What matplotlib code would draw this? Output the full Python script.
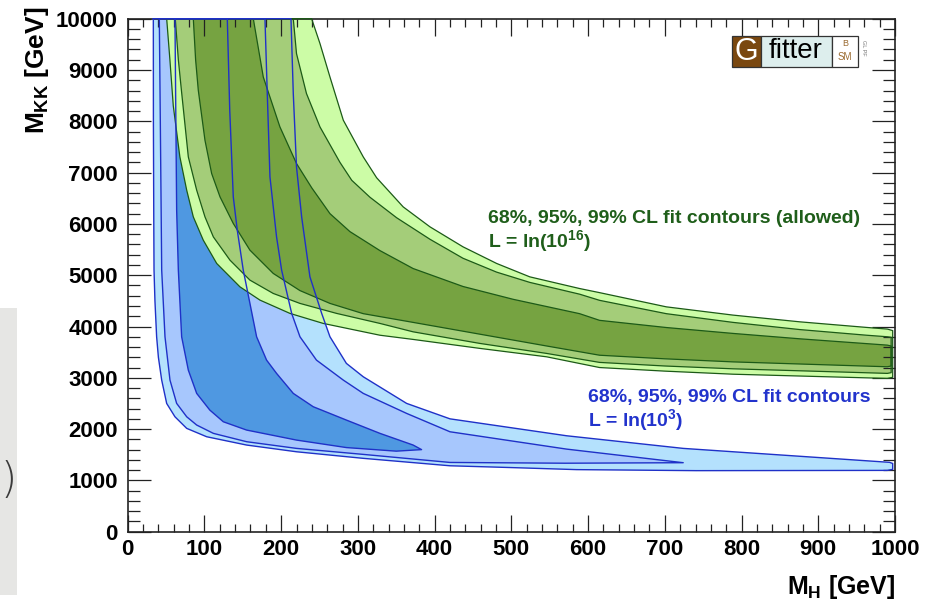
import numpy as np
import matplotlib
matplotlib.use("Agg")
import matplotlib.pyplot as plt
from matplotlib.ticker import MultipleLocator
from matplotlib.patches import Rectangle

plt.rcParams['font.family'] = ['Liberation Sans', 'DejaVu Sans']
plt.rcParams['mathtext.fontset'] = 'custom'
plt.rcParams['mathtext.rm'] = 'Liberation Sans:bold'
plt.rcParams['mathtext.it'] = 'Liberation Sans:bold'
plt.rcParams['mathtext.bf'] = 'Liberation Sans:bold'

# ---------------- data: contour boundaries ----------------
# blue contours, L = ln(10^3): "low" = left/lower edge (top -> right), "high" = right/upper edge
blue99_low_x = [33.4, 33.5, 34.0, 34.3, 35.5, 37.7, 40.0, 44.3, 50.8, 61.6, 76.9, 102.9, 155, 220, 307, 420, 500, 585, 741, 990, 997, 997]
blue99_low_y = [10000, 8000, 6000, 5100, 4500, 3800, 3400, 2955, 2500, 2240, 2014, 1851, 1689, 1558, 1430, 1285, 1250, 1210, 1190, 1195, 1215, 1330]
blue99_high_x = [212.8, 215.8, 220, 226.7, 237.5, 252.8, 263.6, 285, 307, 363.5, 420, 572, 724, 993]
blue99_high_y = [10000, 8541, 7111, 6137, 4968, 4255, 3800, 3281, 3020, 2501, 2200, 1870, 1624, 1352]

blue95_low_x = [41.2, 42.5, 44.3, 48.6, 55.1, 63.8, 76.9, 89.9, 111.6, 155, 220, 307, 420, 570, 724]
blue95_low_y = [10000, 8000, 5100, 3800, 2955, 2501, 2240, 2079, 1917, 1754, 1624, 1507, 1350, 1335, 1345]
blue95_high_x = [178.9, 181.9, 185.4, 194, 200.6, 213.7, 224.5, 246, 281, 307, 363.5, 420, 572, 724]
blue95_high_y = [10000, 8541, 6916, 5747, 5099, 4255, 3800, 3345, 2955, 2696, 2306, 1948, 1610, 1345]

blue68_low_x = [61.6, 63.8, 66, 70.3, 79, 89.9, 107, 124.6, 155, 220, 285, 350, 383]
blue68_low_y = [10000, 6265, 5099, 3800, 3150, 2696, 2371, 2143, 1981, 1786, 1640, 1570, 1600]
blue68_high_x = [129.8, 133, 137.6, 142.8, 150.6, 159.3, 168, 181, 194, 215.8, 241.8, 285, 328.7, 372, 383]
blue68_high_y = [10000, 8212, 6527, 5878, 5099, 4450, 3800, 3345, 3086, 2696, 2436, 2176, 1917, 1689, 1600]

# green contours, L = ln(10^16)
green99_low_x = [50.8, 55, 59.4, 68, 76.9, 85.5, 98.5, 116, 146.3, 172.4, 211.5, 254.8, 328.7, 372, 459, 546, 615, 700, 789, 990, 997, 997]
green99_low_y = [10000, 9200, 8300, 7306, 6657, 6137, 5683, 5229, 4773, 4514, 4255, 4060, 3830, 3748, 3573, 3409, 3200, 3130, 3070, 2988, 3010, 3920]
green99_high_x = [239.7, 250.6, 263.6, 281, 307, 324.4, 359, 394, 437, 480.8, 524, 589, 615, 702, 789, 876, 963, 990]
green99_high_y = [10000, 9515, 8864, 8021, 7306, 6900, 6332, 5942, 5553, 5229, 4968, 4740, 4660, 4383, 4222, 4091, 3982, 3950]

green95_low_x = [62, 66, 70, 79, 89.9, 100.7, 111.6, 133.3, 159.3, 189.7, 224.5, 272.3, 328.7, 372, 459, 546, 615, 700, 789, 990, 995, 995]
green95_low_y = [10000, 9200, 8604, 7306, 6657, 6137, 5747, 5293, 4904, 4644, 4450, 4255, 4060, 3896, 3670, 3475, 3300, 3230, 3175, 3086, 3100, 3790]
green95_high_x = [215.8, 220, 233, 250.6, 276.6, 292, 315.7, 350.5, 394, 437, 480.8, 524, 589, 615, 702, 789, 876, 963, 990]
green95_high_y = [10000, 9320, 8541, 7890, 7200, 6850, 6520, 6120, 5700, 5330, 5060, 4860, 4630, 4510, 4250, 4080, 3940, 3830, 3800]

green68_low_x = [85.5, 88.5, 92, 100.7, 109.4, 120.3, 137.6, 159.3, 189.7, 224.5, 263.6, 307, 372, 459, 546, 615, 700, 789, 990, 995, 995]
green68_low_y = [10000, 9200, 8604, 7630, 6982, 6527, 6008, 5488, 5034, 4700, 4450, 4250, 4080, 3850, 3620, 3440, 3370, 3310, 3215, 3230, 3620]
green68_high_x = [163.7, 176.7, 198.4, 220, 240, 263.6, 289.6, 328.7, 372, 437, 502.4, 589, 615, 702, 789, 876, 990]
green68_high_y = [10000, 8864, 7890, 7177, 6700, 6200, 5850, 5480, 5130, 4780, 4530, 4250, 4120, 3980, 3865, 3760, 3637]

# axis / text content
x_ticks = [0, 100, 200, 300, 400, 500, 600, 700, 800, 900, 1000]
y_ticks = [0, 1000, 2000, 3000, 4000, 5000, 6000, 7000, 8000, 9000, 10000]
green_text = ["68%, 95%, 99% CL fit contours (allowed)", r"L = ln(10$^{16}$)"]
blue_text = ["68%, 95%, 99% CL fit contours", r"L = ln(10$^{3}$)"]

# ---------------- styles ----------------
blue_fill = {'99': '#b4e1fd', '95': '#a7c7fd', '68': '#4f98e1'}
green_fill = {'99': '#ccfca6', '95': '#a4cd79', '68': '#76a341'}
blue_line = '#1f31c8'
green_line = '#1c5a17'

W, H = 940, 601
X0, X1, Y0, Y1 = 127.7, 895.0, 531.7, 18.7   # axes box in pixels
fig = plt.figure(figsize=(W / 100, H / 100), dpi=100)
fig.patch.set_facecolor('white')
ax = fig.add_axes([X0 / W, 1 - Y0 / H, (X1 - X0) / W, (Y0 - Y1) / H])


def polygon(lx, ly, hx, hy):
    x = np.concatenate([lx, hx[::-1]])
    y = np.concatenate([ly, hy[::-1]])
    return np.append(x, x[0]), np.append(y, y[0])


blue_polys = [polygon(blue99_low_x, blue99_low_y, blue99_high_x, blue99_high_y),
              polygon(blue95_low_x, blue95_low_y, blue95_high_x, blue95_high_y),
              polygon(blue68_low_x, blue68_low_y, blue68_high_x, blue68_high_y)]
green_polys = [polygon(green99_low_x, green99_low_y, green99_high_x, green99_high_y),
               polygon(green95_low_x, green95_low_y, green95_high_x, green95_high_y),
               polygon(green68_low_x, green68_low_y, green68_high_x, green68_high_y)]

for (x, y), c in zip(blue_polys, [blue_fill['99'], blue_fill['95'], blue_fill['68']]):
    ax.fill(x, y, color=c, lw=0, zorder=1)
for (x, y), c in zip(green_polys, [green_fill['99'], green_fill['95'], green_fill['68']]):
    ax.fill(x, y, color=c, lw=0, zorder=1.1)
for (x, y) in green_polys:
    ax.plot(x, y, color=green_line, lw=0.9, zorder=3, clip_on=False)
for (x, y) in blue_polys:
    ax.plot(x, y, color=blue_line, lw=1.0, zorder=3.2, clip_on=False)

ax.set_xlim(0, 1000)
ax.set_ylim(0, 10000)
ax.set_xticks(x_ticks)
ax.set_yticks(y_ticks)
ax.xaxis.set_minor_locator(MultipleLocator(20))
ax.yaxis.set_minor_locator(MultipleLocator(200))
ax.tick_params(which='both', direction='in', top=True, right=True, width=0.9, color='#222222')
ax.tick_params(axis='x', which='major', length=12, pad=5)
ax.tick_params(axis='x', which='minor', length=6)
ax.tick_params(axis='y', which='major', length=16.5, pad=7)
ax.tick_params(axis='y', which='minor', length=8.5)
for lab in ax.get_xticklabels() + ax.get_yticklabels():
    lab.set_fontsize(16)
    lab.set_fontweight('bold')
for s in ax.spines.values():
    s.set_linewidth(1.2)
    s.set_color('#222222')
    s.set_zorder(2.5)

# axis titles
fig.text(37 / W, 1 - 7 / H, r'$M_{KK}$ [GeV]', rotation=90, ha='center', va='top',
         fontsize=19, fontweight='bold')
fig.text(895 / W, 1 - 594 / H, r'$M_{H}$ [GeV]', ha='right', va='baseline',
         fontsize=18, fontweight='bold')


def px2data(px, py):
    return ((px - X0) / (X1 - X0) * 1000.0, (Y0 - py) / (Y0 - Y1) * 10000.0)


# annotations (positions given in picture pixels, converted to data)
for txt, (px, py), col in [(green_text[0], (488, 222.7), '#1f5e1a'),
                           (green_text[1], (488, 246.7), '#1f5e1a'),
                           (blue_text[0], (588, 401.7), '#2233cc'),
                           (blue_text[1], (588, 426.0), '#2233cc')]:
    xd, yd = px2data(px, py)
    ax.text(xd, yd, txt, color=col, fontsize=14, fontweight='bold',
            va='baseline', ha='left', zorder=5)


# Gfitter logo (figure pixel coords)
def fig_rect(x0, y0, x1, y1, fc):
    fig.patches.append(Rectangle((x0 / W, 1 - y1 / H), (x1 - x0) / W, (y1 - y0) / H,
                                 transform=fig.transFigure, facecolor=fc,
                                 edgecolor='#333333', lw=0.9, zorder=10))


fig_rect(732, 36, 761, 67, '#7a4810')
fig_rect(761, 36, 831.5, 67, '#ddeeed')
fig_rect(831.5, 36, 858, 67, '#ffffff')
fig.text(746.5 / W, 1 - 52 / H, 'G', color='white', fontsize=22, ha='center', va='center', zorder=11)
fig.text(796 / W, 1 - 51 / H, 'fitter', color='black', fontsize=20, ha='center', va='center', zorder=11)
fig.text(845 / W, 1 - 43 / H, 'B', color='#9a6a30', fontsize=6.5, ha='center', va='center', zorder=11)
fig.text(845 / W, 1 - 57 / H, 'SM', color='#9a6a30', fontsize=7, ha='center', va='center', zorder=11)
fig.text(863 / W, 1 - 48 / H, 'GL PF', color='#777777', fontsize=4, rotation=270,
         ha='center', va='center', zorder=11)

# slide background strip at the left edge
fig.patches.append(Rectangle((0, 1 - 595 / H), 17 / W, (595 - 308) / H, transform=fig.transFigure,
                             facecolor='#e6e6e4', edgecolor='none', zorder=0))
fig.text(0.5 / W, 1 - 481 / H, ')', color='#3a3a3a', fontsize=30, ha='left', va='center',
         family='DejaVu Sans', fontweight='light', zorder=1)

fig.savefig('out.png', dpi=100)
